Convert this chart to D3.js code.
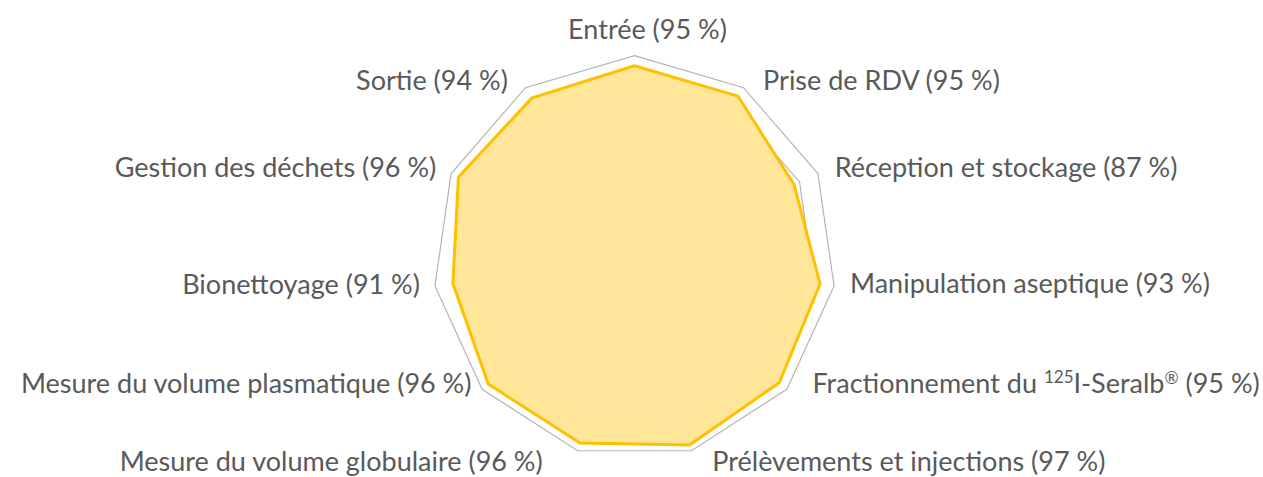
<!DOCTYPE html>
<html>
<head>
<meta charset="utf-8">
<script src="https://cdn.jsdelivr.net/npm/d3@7"></script>
<style>
  body { margin: 0; background: #fff; }
  svg text { font-family: Lato, "Open Sans", sans-serif; fill: #595959; }
</style>
</head>
<body>
<script>
// chart size
var w = 1263;
var h = 477;

// data: axis names + percentage
const categories = [
  "Entrée", "Prise de RDV", "Réception et stockage", "Manipulation aseptique",
  "Fractionnement du 125I-Seralb®", "Prélèvements et injections",
  "Mesure du volume globulaire", "Mesure du volume plasmatique",
  "Bionettoyage", "Gestion des déchets", "Sortie"
];
const values = [95, 95, 87, 93, 95, 97, 96, 96, 91, 96, 94];
const gridTicks = [10, 20, 30, 40, 50, 60, 70, 80, 90, 100];

// small nudges so labels sit like excel places them
const labelNudge = [[13, -12], [12, 5], [4, 0], [2, -4], [15, -15], [17, -3],
                    [-31, -3], [0, -15], [-1, -3], [-2, 0], [-10, 5]];

const cx = 634.5, cy = 257.3, R = 201.6;
const n = categories.length;
const fs = 27;

const r = d3.scaleLinear().domain([0, 100]).range([0, R]);
const angle = i => -Math.PI / 2 + i * 2 * Math.PI / n;

const svg = d3.select("body").append("svg")
  .attr("width", w).attr("height", h);

const g = svg.append("g").attr("transform", `translate(${cx},${cy})`);

const radial = d3.lineRadial()
  .angle((d, i) => i * 2 * Math.PI / n)
  .radius(d => r(d))
  .curve(d3.curveLinearClosed);

// grid rings (only the outer one and bits of 90 show, rest sits under the fill)
g.selectAll(".ring")
  .data(gridTicks)
  .enter().append("path")
  .attr("class", "ring")
  .attr("d", t => radial(d3.range(n).map(() => t)))
  .attr("fill", "none")
  .attr("stroke", "#b4b4b4")
  .attr("stroke-width", 1.2);

// the data polygon
g.append("path")
  .datum(values)
  .attr("d", radial)
  .attr("fill", "#ffe699")
  .attr("stroke", "#ffc000")
  .attr("stroke-width", 3)
  .attr("stroke-linejoin", "round");

// labels
const labels = svg.selectAll(".lbl")
  .data(categories)
  .enter().append("text")
  .attr("class", "lbl")
  .attr("font-size", fs)
  .attr("x", (d, i) => cx + r(100 + 7) * Math.cos(angle(i)) + labelNudge[i][0])
  .attr("y", (d, i) => cy + r(100 + 7) * Math.sin(angle(i)) + labelNudge[i][1])
  .attr("dy", "0.35em")
  .attr("text-anchor", (d, i) => {
    const c = Math.cos(angle(i));
    return c > 0.1 ? "start" : c < -0.1 ? "end" : "middle";
  });

labels.each(function (d, i) {
  const t = d3.select(this);
  const pct = ` (${values[i]} %)`;
  if (d.indexOf("125") >= 0) {
    // superscripts, shift in px so the baseline comes back exactly
    t.append("tspan").text("Fractionnement du ");
    t.append("tspan").attr("font-size", 17).attr("dy", -10).text("125");
    t.append("tspan").attr("dy", 10).attr("font-size", fs).text("I-Seralb");
    t.append("tspan").attr("font-size", 17).attr("dy", -9).text("®");
    t.append("tspan").attr("dy", 9).attr("font-size", fs).text(pct);
  } else {
    t.text(d + pct);
  }
});
</script>
</body>
</html>
